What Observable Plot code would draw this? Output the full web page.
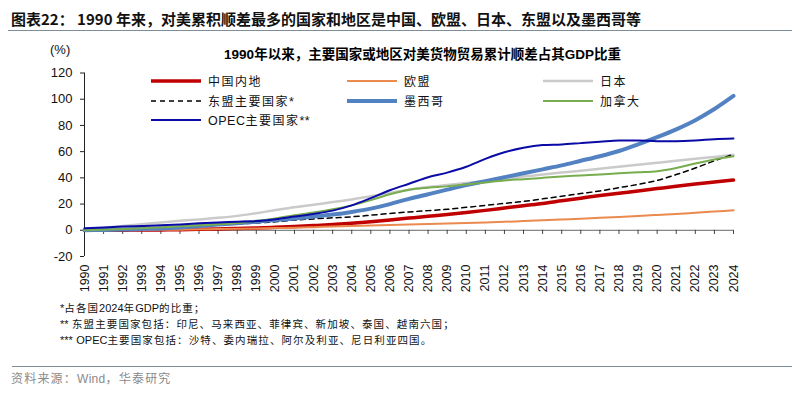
<!DOCTYPE html>
<html>
<head>
<meta charset="utf-8">
<script src="https://cdn.jsdelivr.net/npm/d3@7"></script>
<script src="https://cdn.jsdelivr.net/npm/@observablehq/plot@0.6"></script>
<style>
  html, body { margin: 0; padding: 0; background: #fff; }
  #wrap { position: relative; width: 800px; height: 395px; overflow: hidden; background: #fff; font-family: "Liberation Sans", Arial, "Noto Sans CJK SC", sans-serif; }
  .abs { position: absolute; white-space: nowrap; }
  #header { left: 11px; top: 8px; font-family: "Noto Sans CJK SC", sans-serif; font-weight: 700; font-size: 15px; line-height: 22px; color: #111; }
  #hrule { left: 8px; top: 30px; width: 784px; height: 0; border-top: 1.5px solid #7d8d99; }
  #title { left: 0; width: 845px; top: 45px; text-align: center; font-family: "Liberation Sans", "Noto Sans CJK SC", sans-serif; font-weight: 700; font-size: 13.5px; line-height: 20px; color: #000; }
  #unit { left: 50px; top: 41px; font-size: 13px; line-height: 18px; color: #111; }
  .leg { position: absolute; display: flex; align-items: center; font-family: "Noto Sans CJK SC", sans-serif; font-size: 12px; letter-spacing: 1.5px; color: #111; line-height: 16px; }
  .leg svg { margin-right: 6px; }
  .leg .lat { font-family: "Liberation Sans", Arial, sans-serif; letter-spacing: 0.5px; font-size: 12.5px; }
  #notes { left: 60px; top: 300px; font-family: "Noto Sans CJK SC", sans-serif; font-size: 10.5px; line-height: 16px; color: #111; letter-spacing: 1.1px; }
  #notes .lat { font-family: "Liberation Sans", Arial, sans-serif; letter-spacing: 0; font-size: 11px; }
  #brule { left: 12px; top: 366px; width: 780px; height: 0; border-top: 1.5px solid #7d8d99; }
  #source { left: 11px; top: 370px; font-family: "Noto Sans CJK SC", sans-serif; font-size: 12px; line-height: 16px; color: #8a8a8a; letter-spacing: 1.2px; }
  #source .lat { font-family: "Liberation Sans", Arial, sans-serif; letter-spacing: 0.3px; }
  #plot { position: absolute; left: 0; top: 0; }
</style>
</head>
<body>
<div id="wrap">
  <div id="plot"></div>
  <div id="header" class="abs"></div>
  <div id="hrule" class="abs"></div>
  <div id="unit" class="abs"></div>
  <div id="title" class="abs"></div>
  <div id="legend"></div>
  <div id="notes" class="abs"></div>
  <div id="brule" class="abs"></div>
  <div id="source" class="abs"></div>
</div>
<script>
// ---------- data ----------
const years = d3.range(1990, 2025);
const yTicks = [-20, 0, 20, 40, 60, 80, 100, 120];

const headerText = "图表22：  1990 年来，对美累积顺差最多的国家和地区是中国、欧盟、日本、东盟以及墨西哥等";
const titleText = "1990年以来，主要国家或地区对美货物贸易累计顺差占其GDP比重";
const unitText = "(%)";
const noteLines = [
  "*占各国2024年GDP的比重；",
  "** 东盟主要国家包括：印尼、马来西亚、菲律宾、新加坡、泰国、越南六国；",
  "*** OPEC主要国家包括：沙特、委内瑞拉、阿尔及利亚、尼日利亚四国。"
];
const sourceText = "资料来源：Wind，华泰研究";

const seriesNames = ["中国内地", "欧盟", "日本", "东盟主要国家*", "墨西哥", "加拿大", "OPEC主要国家**"];

const china  = [0,0,0.1,0.2,0.3,0.5,0.7,1.0,1.4,1.8,2.3,2.9,3.6,4.4,5.4,6.6,7.9,9.3,10.7,12.0,13.5,15.2,17.0,18.8,20.5,22.5,24.5,26.5,28.3,30.0,31.8,33.6,35.3,36.8,38.3];
const eu     = [0,0.1,0.2,0.3,0.4,0.5,0.7,0.9,1.1,1.4,1.7,2.0,2.4,2.8,3.2,3.6,4.0,4.4,4.8,5.2,5.6,6.0,6.5,7.0,7.6,8.2,8.8,9.5,10.2,10.9,11.7,12.5,13.4,14.3,15.2];
const japan  = [0.5,1.8,3.2,4.6,6.0,7.2,8.3,9.5,11.0,13.0,15.5,17.5,19.5,21.5,23.5,26.0,28.5,31.0,33.0,34.5,36.0,37.5,39.0,41.0,42.5,44.0,45.5,47.0,48.5,50.0,51.5,53.0,54.5,56.0,57.5];
const asean  = [0,0.3,0.7,1.2,1.8,2.5,3.3,4.0,4.8,5.6,6.5,7.8,8.7,9.5,10.3,11.5,12.8,14.0,15.0,16.0,17.5,19.0,20.5,22.0,24.0,26.0,28.0,30.0,32.5,35.0,38.0,42.5,47.5,53.0,58.0];
const mexico = [0,0.3,0.6,1.0,1.4,2.2,3.3,4.4,5.4,6.5,7.8,9.0,10.5,12.0,14.0,16.5,20.0,24.0,27.5,31.0,34.5,37.5,40.5,43.5,46.5,49.5,53.0,56.5,60.5,65.5,71.0,77.0,84.0,92.5,102.5];
const canada = [0,0.5,1.0,1.6,2.3,3.0,3.8,4.6,5.5,7.0,9.0,11.5,13.5,16.0,19.0,23.0,27.5,31.0,32.5,33.5,35.0,36.5,38.0,39.0,40.0,41.0,41.8,42.6,43.5,44.2,45.0,47.5,51.0,54.0,56.5];
const opec   = [1.5,2.2,2.8,3.3,3.8,4.5,5.3,6.0,6.5,7.0,8.5,10.5,12.5,15.0,19.0,24.5,30.5,35.5,40.5,44.0,48.5,54.5,59.5,63.0,65.0,65.5,66.5,67.5,68.5,68.5,68.0,68.0,68.5,69.5,70.0];

// ---------- styles ----------
const styles = [
  {name: seriesNames[0], values: china,  stroke: "#c00000", width: 3.5, dash: null},
  {name: seriesNames[1], values: eu,     stroke: "#ea8a4e", width: 2,   dash: null},
  {name: seriesNames[2], values: japan,  stroke: "#cacaca", width: 2.5, dash: null},
  {name: seriesNames[3], values: asean,  stroke: "#000000", width: 1.5, dash: "5,4"},
  {name: seriesNames[4], values: mexico, stroke: "#5382c2", width: 4,   dash: null},
  {name: seriesNames[5], values: canada, stroke: "#77ad4e", width: 2,   dash: null},
  {name: seriesNames[6], values: opec,   stroke: "#0a0aa6", width: 2,   dash: null}
];

const lineMarks = styles.map(s =>
  Plot.line(years.map((yr, i) => ({year: yr, v: s.values[i]})), {
    x: "year", y: "v", stroke: s.stroke, strokeWidth: s.width,
    strokeDasharray: s.dash || undefined, curve: "monotone-x"
  })
);

const chart = Plot.plot({
  width: 800,
  height: 395,
  marginLeft: 84,
  marginRight: 67,
  marginTop: 72.5,
  marginBottom: 139,
  style: {fontFamily: "'Liberation Sans', Arial, sans-serif", fontSize: "13px", background: "transparent", color: "#111"},
  x: {type: "linear", domain: [1990, 2024]},
  y: {domain: [-20, 120]},
  marks: [
    Plot.axisY({ticks: yTicks, tickSize: 4, tickPadding: 8, tickFormat: d => String(d), label: null, fontSize: 13, stroke: "#222"}),
    Plot.ruleX([1990], {stroke: "#222", strokeWidth: 1}),
    Plot.axisX({ticks: years, tickSize: 0, tickPadding: 8, tickRotate: -90, tickFormat: d => String(d), label: null, fontSize: 12.5}),
    Plot.ruleY([0], {stroke: "#666", strokeWidth: 1}),
    Plot.ruleX(years.slice(1), {x: d => d, y1: 0, y2: -3.2, stroke: "#444"}),
    ...lineMarks
  ]
});
document.getElementById("plot").appendChild(chart);

// ---------- text ----------
document.getElementById("header").textContent = headerText;
document.getElementById("title").textContent = titleText;
document.getElementById("unit").textContent = unitText;

function latinWrap(str) {
  return str.replace(/([A-Za-z0-9*]+)/g, '<span class="lat">$1</span>');
}
document.getElementById("notes").innerHTML = noteLines.map(l => "<div>" + latinWrap(l) + "</div>").join("");
document.getElementById("source").innerHTML = latinWrap(sourceText);

// ---------- legend ----------
const legCols = [150, 346, 542];
const legRows = [81, 101, 120];
const legend = document.getElementById("legend");
styles.forEach((s, i) => {
  const col = i % 3, row = Math.floor(i / 3);
  const el = document.createElement("div");
  el.className = "leg";
  el.style.left = legCols[col] + "px";
  el.style.top = (legRows[row] - 8) + "px";
  el.style.height = "16px";
  const sw = `<svg width="52" height="8"><line x1="1" x2="51" y1="4" y2="4" stroke="${s.stroke}" stroke-width="${s.width}" ${s.dash ? `stroke-dasharray="${s.dash}"` : ""}/></svg>`;
  el.innerHTML = sw + "<span>" + latinWrap(s.name) + "</span>";
  legend.appendChild(el);
});
</script>
</body>
</html>
